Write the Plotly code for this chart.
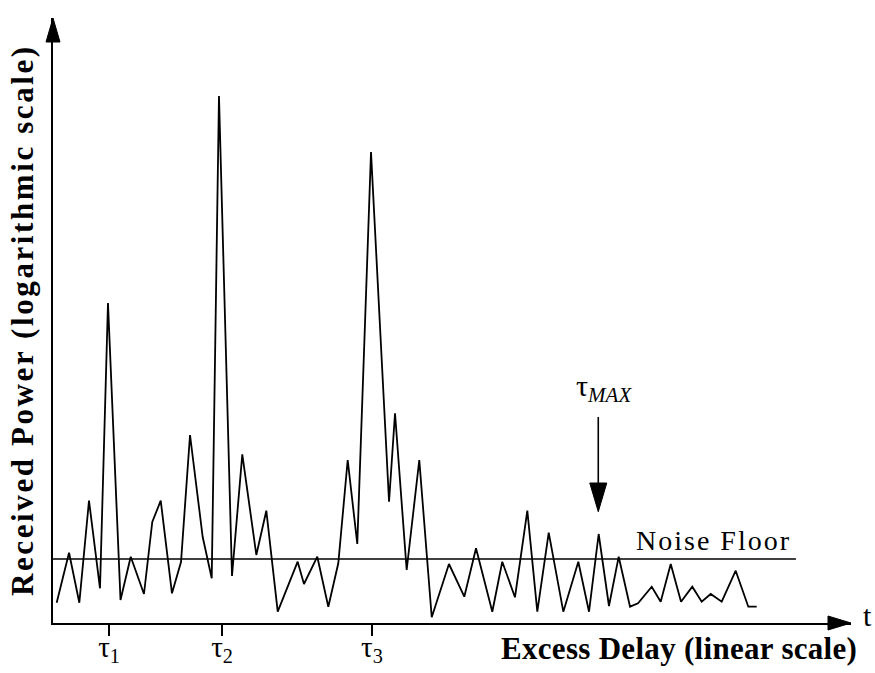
import plotly.graph_objects as go

# ---- data ----
# excess delay (arbitrary linear units, 0..100 across the axis)
delay = [0.46, 2.01, 3.30, 4.51, 5.89, 6.89, 8.46, 9.74, 11.40, 12.44,
         13.50, 14.91, 16.04, 17.17, 18.76, 19.89, 20.80, 22.43, 23.72, 25.48,
         26.73, 28.16, 30.66, 31.45, 33.12, 34.50, 35.75, 36.93, 38.13, 39.85,
         42.11, 42.86, 44.32, 45.90, 47.46, 49.62, 51.54, 53.01, 55.05, 56.30,
         57.89, 59.44, 60.69, 62.12, 63.95, 65.83, 67.17, 68.38, 69.67, 70.89,
         72.31, 73.31, 75.03, 76.15, 77.41, 78.70, 80.11, 81.29, 82.42, 83.80,
         85.55, 87.13, 88.18]
# received power, dB relative to the noise floor
power_db = [-4.37, 0.63, -4.37, 5.83, -2.93, 25.6, -4.10, 0.23, -3.50, 3.70,
            5.83, -3.43, -0.30, 12.40, 2.20, -1.93, 46.3, -1.70, 10.47, 0.40,
            4.83, -5.27, -0.27, -2.50, 0.23, -4.77, -0.43, 9.90, 1.50, 40.7,
            5.73, 14.57, -1.10, 9.90, -5.83, -0.50, -3.77, 1.07, -5.27, -0.27,
            -3.83, 4.83, -5.27, 2.63, -5.27, -0.27, -5.27, 2.50, -4.70, 0.23,
            -4.77, -4.43, -2.77, -4.27, -0.50, -4.27, -2.77, -4.27, -3.50, -4.27,
            -1.17, -4.77, -4.77]

tau_pos = [7.02, 21.18, 39.97]
tau_labels = ["τ<sub>1</sub>", "τ<sub>2</sub>", "τ<sub>3</sub>"]
tau_max = 68.33
noise_floor = 0.0
noise_floor_end = 93.1
x_range = [0, 100]
y_range = [-6.4, 54.1]

W, H = 875, 673
ML, MR, MT, MB = 53, 24, 18, 50
PW = W - ML - MR
PH = H - MT - MB

def px2paper_x(dx):
    return dx / PW

def px2paper_y(dy):
    return dy / PH

def dx_px(d):
    return d * (x_range[1] - x_range[0]) / PW

SERIF = "Liberation Serif, Times New Roman, serif"

fig = go.Figure()
fig.add_trace(go.Scatter(x=delay, y=power_db, mode="lines",
                         line=dict(color="black", width=1.8),
                         hoverinfo="skip", showlegend=False))
fig.add_trace(go.Scatter(x=[x_range[0], noise_floor_end], y=[noise_floor, noise_floor],
                         mode="lines", line=dict(color="black", width=1.6),
                         hoverinfo="skip", showlegend=False))

shapes = []
# x-axis arrowhead (paper coords)
hl, hw = px2paper_x(23), px2paper_y(7)
shapes.append(dict(type="path", xref="paper", yref="paper",
                   path=f"M {1-hl},{-hw} L 1,0 L {1-hl},{hw} Z",
                   fillcolor="black", line=dict(color="black", width=1)))
# y-axis arrowhead
vl, vw = px2paper_y(24), px2paper_x(7)
shapes.append(dict(type="path", xref="paper", yref="paper",
                   path=f"M {-vw},{1-vl} L 0,1 L {vw},{1-vl} Z",
                   fillcolor="black", line=dict(color="black", width=1)))
# tau_max arrow (data coords)
a_top, a_head, a_tip = 14.2, 7.6, 4.73
a_hw = dx_px(8.5)
shapes.append(dict(type="line", xref="x", yref="y", x0=tau_max, x1=tau_max,
                   y0=a_top, y1=a_head, line=dict(color="black", width=1.6)))
shapes.append(dict(type="path", xref="x", yref="y",
                   path=f"M {tau_max-a_hw},{a_head} L {tau_max},{a_tip} L {tau_max+a_hw},{a_head} Z",
                   fillcolor="black", line=dict(color="black", width=1)))

annotations = [
    dict(text="<b><span style='letter-spacing:2.6px'>Received Power (logarithmic scale)</span></b>",
         xref="paper", yref="paper", x=0, y=(PH - (320 - MT)) / PH, xshift=-31,
         textangle=-90, showarrow=False, xanchor="center", yanchor="middle",
         font=dict(family=SERIF, size=31, color="black")),
    dict(text="<b><span style='letter-spacing:0.3px'>Excess Delay (linear scale)</span></b>",
         xref="paper", yref="paper", x=(679 - ML) / PW, y=-(648 - (MT + PH)) / PH,
         showarrow=False, xanchor="center", yanchor="middle",
         font=dict(family=SERIF, size=31, color="black")),
    dict(text="t", xref="paper", yref="paper", x=(867 - ML) / PW, y=-(615 - (MT + PH)) / PH,
         showarrow=False, xanchor="center", yanchor="middle",
         font=dict(family=SERIF, size=30, color="black")),
    dict(text="<span style='letter-spacing:2px'>Noise Floor</span>", xref="x", yref="y", x=82.8, y=1.9,
         showarrow=False, xanchor="center", yanchor="middle",
         font=dict(family=SERIF, size=28, color="black")),
    dict(text="τ<sub><i>MAX</i></sub>", xref="x", yref="y", x=69.0, y=17.1,
         showarrow=False, xanchor="center", yanchor="middle",
         font=dict(family=SERIF, size=30, color="black")),
]

fig.update_layout(
    template="none",
    width=W, height=H,
    margin=dict(l=ML, r=MR, t=MT, b=MB, pad=0, autoexpand=False),
    paper_bgcolor="white", plot_bgcolor="white",
    showlegend=False,
    shapes=shapes, annotations=annotations,
    xaxis=dict(range=x_range, showgrid=False, zeroline=False, showline=True, automargin=False,
               linecolor="black", linewidth=2, ticks="outside", ticklen=11,
               tickwidth=1.5, tickcolor="black", tickvals=tau_pos, ticktext=tau_labels,
               ticklabelstandoff=-14,
               tickfont=dict(family=SERIF, size=29, color="black"), fixedrange=True),
    yaxis=dict(range=y_range, showgrid=False, zeroline=False, showline=True, automargin=False,
               linecolor="black", linewidth=2, ticks="", showticklabels=False,
               fixedrange=True),
)

fig.write_html("out.html")
